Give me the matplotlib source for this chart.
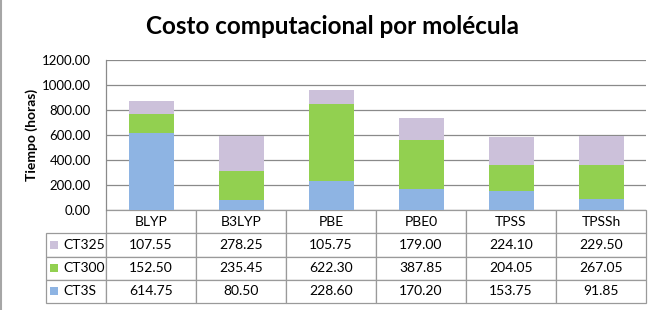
import matplotlib
matplotlib.use("Agg")
import matplotlib.pyplot as plt
from matplotlib.patches import Rectangle
from matplotlib.lines import Line2D
import numpy as np

plt.rcParams['font.family'] = ['Lato', 'DejaVu Sans']

# --- Data ---
methods = ["BLYP", "B3LYP", "PBE", "PBE0", "TPSS", "TPSSh"]
ct3s = [614.75, 80.50, 228.60, 170.20, 153.75, 91.85]
ct300 = [152.50, 235.45, 622.30, 387.85, 204.05, 267.05]
ct325 = [107.55, 278.25, 105.75, 179.00, 224.10, 229.50]
series_names = ["CT3S", "CT300", "CT325"]
yticks = [0, 200, 400, 600, 800, 1000, 1200]

colors = {"CT3S": "#8EB4E3", "CT300": "#92D050", "CT325": "#CCC1DA"}
grid_col = "#8a8a8a"
tbl_col = "#9a9a9a"

W, H = 663, 310
fig = plt.figure(figsize=(W / 100, H / 100), dpi=100)

# plot area in pixel coords
x0, x1 = 106, 646
y_top, y_zero = 60, 210
ax_w = x1 - x0
ax_h = y_zero - y_top
ax = fig.add_axes([x0 / W, (H - y_zero) / H, ax_w / W, ax_h / H])

x = np.arange(len(methods))
bottom = np.zeros(len(methods))
for name, vals in zip(series_names, [ct3s, ct300, ct325]):
    ax.bar(x, vals, width=0.5, bottom=bottom, color=colors[name], zorder=3)
    bottom += np.array(vals)

ax.set_xlim(-0.5, len(methods) - 0.5)
ax.set_ylim(0, 1200)
ax.set_yticks(yticks)
ax.set_yticklabels([f"{v:.2f}" for v in yticks], fontsize=9.5)
ax.set_xticks([])
ax.tick_params(axis='y', length=0, pad=11)
ax.grid(axis='y', color=grid_col, linewidth=0.9, zorder=0)
for s in ["top", "right", "bottom"]:
    ax.spines[s].set_visible(False)
ax.spines["left"].set_color(grid_col)
ax.spines["left"].set_linewidth(0.9)
ax.set_ylabel("Tiempo (horas)", fontsize=10, fontweight='bold', labelpad=3)

# --- Data table ---
label_left = 46
table_bottom = 303
rows = [("CT325", ct325), ("CT300", ct300), ("CT3S", ct3s)]
cell_text = [[""] + methods]
for name, vals in rows:
    cell_text.append([name] + [f"{v:.2f}" for v in vals])

lab_w = (x0 - label_left) / ax_w
col_w = [lab_w] + [1.0 / len(methods)] * len(methods)
tbl = ax.table(cellText=cell_text, colWidths=col_w, cellLoc='center',
               bbox=[-lab_w, -(table_bottom - y_zero) / ax_h, 1 + lab_w,
                     (table_bottom - y_zero) / ax_h])
tbl.auto_set_font_size(False)
tbl.set_fontsize(10)
for (r, c), cell in tbl.get_celld().items():
    cell.set_edgecolor(tbl_col)
    cell.set_linewidth(0.9)
    if c == 0:
        cell._loc = 'left'
        cell.PAD = 17 / (x0 - label_left)
        cell.get_text().set_horizontalalignment('left')
    if r == 0 and c == 0:
        cell.visible_edges = 'open'

# legend keys in row label cells
row_h = (table_bottom - y_zero) / 4
sq = 8
for i, (name, _) in enumerate(rows):
    cy = y_zero + row_h * (i + 1.5)
    ax.add_patch(Rectangle(((50 - x0) / ax_w, (y_zero - cy - sq / 2) / ax_h),
                           sq / ax_w, sq / ax_h, transform=ax.transAxes,
                           facecolor=colors[name], edgecolor='none',
                           clip_on=False, zorder=5))

fig.suptitle("Costo computacional por molécula", fontsize=17.5, fontweight='bold',
             y=1 - 27 / H, va='center', x=332 / W)

# chart frame (left edge visible in crop)
fig.add_artist(Line2D([1 / W, 1 / W], [0, 1], transform=fig.transFigure,
                      color="#a6a6a6", linewidth=1.5))

fig.savefig("out.png", dpi=100)
